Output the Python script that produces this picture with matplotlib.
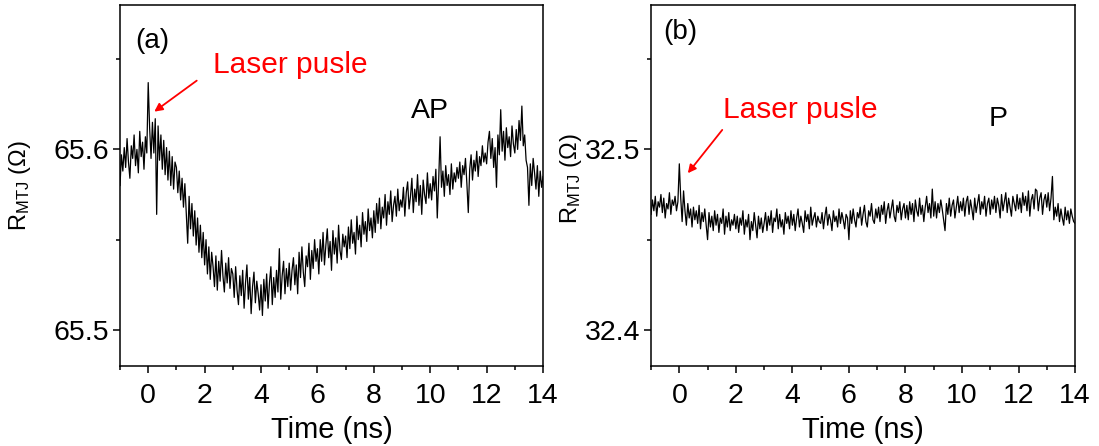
import numpy as np
import matplotlib
matplotlib.use('Agg')
import matplotlib.pyplot as plt
from matplotlib.ticker import MultipleLocator, FormatStrFormatter

plt.rcParams['font.family'] = ['Liberation Sans', 'DejaVu Sans']
plt.rcParams['mathtext.fontset'] = 'custom'
plt.rcParams['mathtext.rm'] = 'Liberation Sans'
plt.rcParams['mathtext.it'] = 'Liberation Sans:italic'

# time axis, 0.05 ns steps from -1 to 14 ns
t = np.arange(301) * 0.05 - 1.0

# (a) AP state, mOhm above 65.5 Ohm
r_ap = [
    80, 97, 88, 101, 90, 106, 93, 84, 102, 95, 108, 91, 100, 87, 110, 96, 104, 89, 107, 98,
    137, 112, 95, 115, 98, 117, 64, 113, 94, 108, 89, 105, 86, 101, 83, 99, 80, 96, 78, 93,
    90, 76, 88, 72, 84, 68, 81, 65, 48, 74, 56, 70, 52, 66, 47, 62, 43, 58, 40, 54,
    36, 50, 31, 46, 28, 43, 35, 24, 41, 22, 38, 27, 44, 30, 21, 37, 26, 40, 23, 34,
    31, 18, 35, 22, 14, 30, 19, 33, 12, 26, 36, 17, 29, 9, 24, 32, 15, 27, 20, 11,
    25, 8, 28, 16, 31, 12, 26, 35, 14, 29, 18, 33, 21, 45, 17, 30, 38, 20, 34, 24,
    37, 22, 33, 40, 25, 36, 20, 43, 29, 46, 32, 24, 41, 35, 48, 28, 44, 34, 50, 38,
    45, 31, 50, 38, 54, 36, 47, 56, 40, 49, 33, 55, 42, 51, 37, 58, 44, 39, 53, 46,
    52, 40, 57, 45, 61, 48, 54, 42, 63, 50, 58, 46, 65, 53, 60, 49, 67, 55, 62, 51,
    66, 54, 70, 59, 73, 56, 68, 62, 75, 58, 71, 64, 77, 60, 69, 74, 63, 78, 66, 72,
    68, 79, 63, 76, 82, 67, 74, 84, 65, 78, 71, 86, 69, 80, 64, 83, 75, 70, 87, 73,
    81, 72, 85, 77, 89, 62, 83, 107, 79, 88, 74, 91, 80, 86, 75, 92, 78, 87, 82, 90,
    84, 93, 79, 91, 86, 95, 81, 65, 89, 97, 83, 94, 88, 99, 85, 96, 91, 102, 93, 98,
    92, 104, 110, 95, 106, 90, 101, 79, 108, 97, 122, 99, 110, 94, 112, 101, 107, 96, 113, 103,
    98, 111, 100, 116, 105, 124, 102, 108, 94, 90, 69, 92, 80, 95, 87, 78, 91, 74, 88, 79,
    85,
]

# (b) P state, mOhm above 32.4 Ohm
r_p = [
    64, 72, 66, 74, 63, 71, 68, 75, 65, 73, 62, 70, 67, 76, 64, 72, 69, 74, 66, 71,
    92, 73, 60, 77, 66, 58, 70, 62, 67, 57, 68, 61, 66, 59, 69, 56, 65, 60, 67, 58,
    50, 65, 57, 63, 55, 66, 58, 64, 54, 62, 59, 67, 53, 63, 57, 65, 55, 61, 58, 64,
    56, 63, 54, 62, 58, 66, 53, 61, 57, 64, 50, 60, 55, 65, 58, 51, 63, 56, 62, 54,
    59, 65, 55, 63, 58, 66, 54, 62, 60, 67, 56, 64, 57, 61, 53, 65, 59, 63, 56, 66,
    58, 64, 55, 62, 67, 57, 63, 59, 54, 66, 60, 64, 56, 68, 58, 62, 65, 57, 63, 60,
    59, 65, 56, 63, 68, 58, 64, 61, 55, 66, 60, 63, 57, 67, 59, 65, 61, 56, 64, 62,
    50, 66, 59, 67, 61, 57, 65, 62, 68, 58, 64, 69, 60, 57, 66, 63, 70, 61, 59, 67,
    62, 68, 60, 69, 64, 71, 59, 66, 70, 62, 67, 72, 63, 60, 69, 65, 71, 61, 67, 70,
    62, 69, 61, 71, 64, 70, 60, 72, 66, 63, 73, 64, 69, 60, 68, 74, 65, 70, 62, 78,
    63, 71, 62, 70, 65, 72, 67, 61, 55, 70, 64, 73, 63, 69, 72, 62, 68, 74, 65, 71,
    66, 73, 63, 71, 74, 64, 72, 67, 61, 73, 65, 70, 75, 64, 71, 67, 74, 63, 70, 73,
    64, 72, 67, 74, 65, 73, 69, 62, 75, 66, 71, 76, 65, 73, 68, 63, 74, 70, 66, 75,
    67, 73, 65, 76, 69, 74, 66, 77, 63, 72, 75, 67, 78, 77, 66, 73, 76, 64, 72, 75,
    68, 76, 66, 73, 85, 61, 68, 63, 70, 60, 67, 62, 58, 68, 61, 66, 59, 67, 63, 60,
    59,
]

R_ap = 65.5 + np.array(r_ap) / 1000.0
R_p = 32.4 + np.array(r_p) / 1000.0

fig = plt.figure(figsize=(10.99, 4.46), dpi=100)
ax1 = fig.add_axes([0.1092, 0.1794, 0.3849, 0.8094])
ax2 = fig.add_axes([0.5924, 0.1794, 0.3858, 0.8094])

ylabel = r'R$_{\mathrm{MTJ}}$ ($\Omega$)'

for ax, R, ylim, yt in [(ax1, R_ap, (65.48, 65.68), [65.5, 65.6]),
                        (ax2, R_p, (32.38, 32.58), [32.4, 32.5])]:
    ax.plot(t, R, color='black', lw=0.9)
    ax.set_xlim(-1, 14)
    ax.set_ylim(*ylim)
    ax.set_yticks(yt)
    ax.yaxis.set_major_formatter(FormatStrFormatter('%.1f'))
    ax.yaxis.set_minor_locator(MultipleLocator(0.05))
    ax.xaxis.set_major_locator(MultipleLocator(2))
    ax.xaxis.set_minor_locator(MultipleLocator(1))
    ax.tick_params(which='major', direction='out', length=5, width=1.1,
                   labelsize=20.5, top=False, right=False)
    ax.tick_params(which='minor', direction='out', length=3, width=1.1,
                   top=False, right=False)
    ax.tick_params(axis='x', which='major', pad=7)
    ax.tick_params(axis='y', which='major', pad=3)
    for s in ax.spines.values():
        s.set_linewidth(1.1)
    ax.set_xlabel('Time (ns)', fontsize=21, labelpad=5)
    ax.set_ylabel(ylabel, fontsize=17)

ax1.yaxis.set_label_coords(-0.206, 0.5)
ax2.yaxis.set_label_coords(-0.158, 0.52)

ax1.text(0.035, 0.900, '(a)', transform=ax1.transAxes, fontsize=20, va='center', ha='left')
ax2.text(0.028, 0.925, '(b)', transform=ax2.transAxes, fontsize=20, va='center', ha='left')

ax1.text(2.30, 65.6467, 'Laser pusle', color='red', fontsize=21.5, va='center', ha='left')
ax1.annotate('', xy=(0.135, 65.620), xytext=(1.80, 65.639),
             arrowprops=dict(arrowstyle='-|>', color='red', lw=1.3, mutation_scale=12))
ax1.text(9.99, 65.621, 'AP', fontsize=20.5, va='center', ha='center')

ax2.text(1.55, 32.5217, 'Laser pusle', color='red', fontsize=21.5, va='center', ha='left')
ax2.annotate('', xy=(0.24, 32.4856), xytext=(1.58, 32.512),
             arrowprops=dict(arrowstyle='-|>', color='red', lw=1.3, mutation_scale=12))
ax2.text(11.28, 32.517, 'P', fontsize=20.5, va='center', ha='center')

fig.savefig('out.png', dpi=100)
